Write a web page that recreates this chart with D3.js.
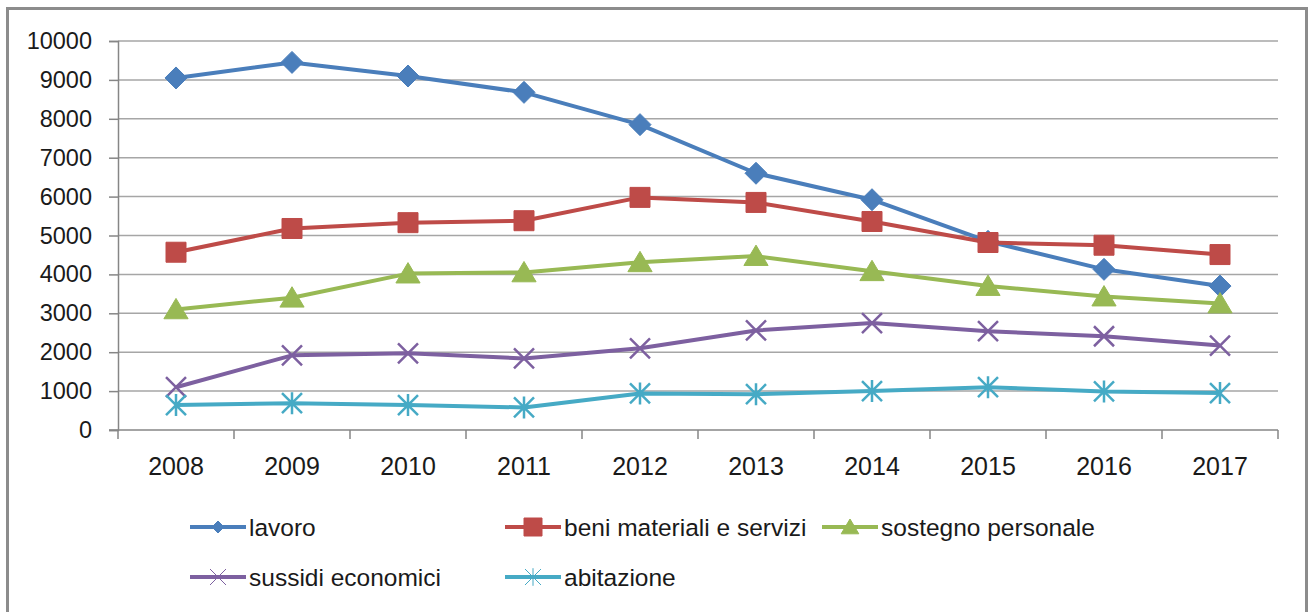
<!DOCTYPE html>
<html>
<head>
<meta charset="utf-8">
<script src="https://cdn.jsdelivr.net/npm/d3@7"></script>
<style>
  body { margin: 0; background: #fff; }
  svg { display: block; }
  text { font-family: "Liberation Sans", Arial, sans-serif; fill: #1a1a1a; }
</style>
</head>
<body>
<svg width="1310" height="612"></svg>
<script>
// data
const years = ["2008", "2009", "2010", "2011", "2012", "2013", "2014", "2015", "2016", "2017"];
const lavoro = [9050, 9450, 9100, 8680, 7850, 6600, 5920, 4850, 4130, 3700];
const beni = [4570, 5180, 5330, 5380, 5980, 5850, 5360, 4820, 4750, 4510];
const sostegno = [3100, 3400, 4020, 4050, 4310, 4470, 4080, 3700, 3430, 3250];
const sussidi = [1100, 1920, 1970, 1840, 2100, 2560, 2750, 2540, 2410, 2170];
const abitazione = [640, 690, 640, 580, 940, 920, 1000, 1100, 990, 950];
const yTicks = [0, 1000, 2000, 3000, 4000, 5000, 6000, 7000, 8000, 9000, 10000];

const series = [
  { name: "lavoro", values: lavoro, color: "#4a7ebb", marker: "diamond" },
  { name: "beni materiali e servizi", values: beni, color: "#be4b48", marker: "square" },
  { name: "sostegno personale", values: sostegno, color: "#98b954", marker: "triangle" },
  { name: "sussidi economici", values: sussidi, color: "#7d60a0", marker: "cross" },
  { name: "abitazione", values: abitazione, color: "#46aac5", marker: "star" }
];

window.onload = () => {
  const svg = d3.select("svg");
  const left = 118, right = 1278, top = 41, bottom = 430;

  // outer frame
  svg.append("path")
    .attr("d", "M7.5,612 V8.5 H1306.5 V612")
    .attr("fill", "none")
    .attr("stroke", "#8c8c8c")
    .attr("stroke-width", 3);

  const x = d3.scaleBand().domain(years).range([left, right]);
  const y = d3.scaleLinear().domain([0, 10000]).range([bottom, top]);
  const cx = d => x(d) + x.bandwidth() / 2;

  // gridlines
  svg.append("g")
    .selectAll("line")
    .data(yTicks.filter(d => d > 0))
    .enter().append("line")
    .attr("x1", left).attr("x2", right)
    .attr("y1", d => y(d)).attr("y2", d => y(d))
    .attr("stroke", "#a6a6a6")
    .attr("stroke-width", 1.5);

  // y axis
  const yAxis = svg.append("g")
    .attr("transform", `translate(${left},0)`)
    .call(d3.axisLeft(y).tickValues(yTicks).tickFormat(d3.format("d")).tickSize(9).tickPadding(17));
  yAxis.select(".domain").attr("stroke", "#868686").attr("stroke-width", 1.5);
  yAxis.selectAll(".tick line").attr("stroke", "#868686").attr("stroke-width", 1.5);
  yAxis.selectAll("text")
    .style("font-family", "Liberation Sans, Arial, sans-serif")
    .style("font-size", "23.5px")
    .attr("fill", "#1a1a1a");

  // x axis, ticks at band edges
  const xAxisG = svg.append("g");
  xAxisG.append("line")
    .attr("x1", left - 9).attr("x2", right)
    .attr("y1", bottom).attr("y2", bottom)
    .attr("stroke", "#868686").attr("stroke-width", 1.5);
  xAxisG.selectAll(".xt")
    .data(years.concat(["end"]))
    .enter().append("line")
    .attr("class", "xt")
    .attr("x1", (d, i) => i < years.length ? x(d) : right)
    .attr("x2", (d, i) => i < years.length ? x(d) : right)
    .attr("y1", bottom).attr("y2", bottom + 9)
    .attr("stroke", "#868686").attr("stroke-width", 1.5);
  xAxisG.selectAll(".xl")
    .data(years)
    .enter().append("text")
    .attr("class", "xl")
    .attr("x", d => cx(d))
    .attr("y", 475)
    .attr("text-anchor", "middle")
    .style("font-size", "25px")
    .text(d => d);

  const markerPath = (type, s) => {
    if (type === "diamond") return `M0,${-s}L${s},0L0,${s}L${-s},0Z`;
    if (type === "square") return `M${-s},${-s}H${s}V${s}H${-s}Z`;
    if (type === "triangle") return `M0,${-s}L${s * 1.1},${s * 0.85}H${-s * 1.1}Z`;
    if (type === "cross") return `M${-s},${-s}L${s},${s}M${s},${-s}L${-s},${s}`;
    return `M${-s},${-s}L${s},${s}M${s},${-s}L${-s},${s}M0,${-s * 1.1}V${s * 1.1}`;
  };
  const isStroked = t => t === "cross" || t === "star";

  const line = d3.line()
    .x((d, i) => cx(years[i]))
    .y(d => y(d));

  series.forEach(s => {
    const g = svg.append("g");
    g.append("path")
      .datum(s.values)
      .attr("d", line)
      .attr("fill", "none")
      .attr("stroke", s.color)
      .attr("stroke-width", 4)
      .attr("stroke-linejoin", "round");
    const size = { diamond: 11, square: 10, triangle: 11, cross: 10, star: 10 }[s.marker];
    g.selectAll("path.m")
      .data(s.values)
      .enter().append("path")
      .attr("class", "m")
      .attr("transform", (d, i) => `translate(${cx(years[i])},${y(d)})`)
      .attr("d", markerPath(s.marker, size))
      .attr("fill", isStroked(s.marker) ? "none" : s.color)
      .attr("stroke", s.color)
      .attr("stroke-width", isStroked(s.marker) ? 2.5 : 1);
  });

  // legend
  const legendPos = [
    { x: 190, y: 527 }, { x: 505, y: 527 }, { x: 822, y: 527 },
    { x: 190, y: 577 }, { x: 505, y: 577 }
  ];
  const legendSize = { diamond: 6, square: 9, triangle: 8, cross: 8, star: 8 };
  const lg = svg.append("g")
    .selectAll("g")
    .data(series)
    .enter().append("g")
    .attr("transform", (d, i) => `translate(${legendPos[i].x},${legendPos[i].y})`);
  lg.append("line")
    .attr("x1", 0).attr("x2", 56)
    .attr("y1", 0).attr("y2", 0)
    .attr("stroke", d => d.color)
    .attr("stroke-width", 4);
  lg.append("path")
    .attr("transform", "translate(28,0)")
    .attr("d", d => markerPath(d.marker, legendSize[d.marker]))
    .attr("fill", d => isStroked(d.marker) ? "none" : d.color)
    .attr("stroke", d => d.color)
    .attr("stroke-width", 1);
  lg.append("text")
    .attr("x", 59)
    .attr("y", 9)
    .style("font-size", "24.5px")
    .text(d => d.name);
};
</script>
</body>
</html>
